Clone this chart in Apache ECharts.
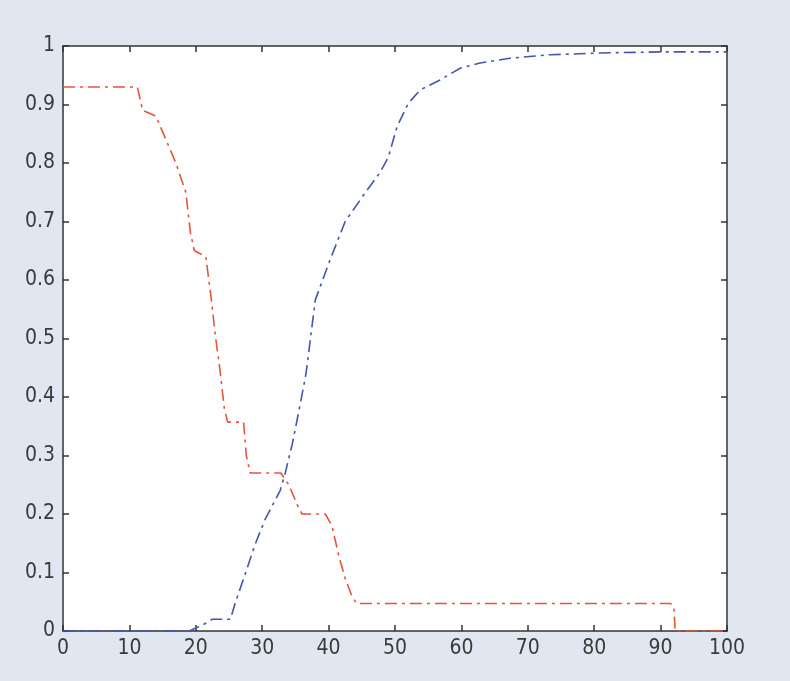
<!DOCTYPE html>
<html>
<head>
<meta charset="utf-8">
<script src="https://cdn.jsdelivr.net/npm/echarts@6/dist/echarts.min.js"></script>
<style>
html,body{margin:0;padding:0;background:#e1e7f0;}
#main{width:790px;height:681px;}
</style>
</head>
<body>
<div id="main"></div>
<script>
// 红线 (x, y) 阶梯下降
var redX=[0,11.2,12,14,15.5,17,18.5,19.2,19.8,21.5,22.2,23,23.6,24.3,24.8,27.2,27.6,28.2,32.8,34,35.5,36,39.5,40.5,41.5,42.5,43.5,44.2,91.5,92,92.2,100];
var redY=[0.93,0.93,0.89,0.88,0.84,0.80,0.75,0.68,0.65,0.64,0.58,0.50,0.45,0.38,0.357,0.357,0.30,0.27,0.27,0.25,0.21,0.20,0.20,0.18,0.13,0.09,0.06,0.047,0.047,0.04,0,0];
// 蓝线 (x, y) 上升
var blueX=[0,19,20,21,22.5,25.2,26,27.4,28.9,30.4,32.7,33.4,34.5,35.7,36.6,38,40.2,42.5,45.5,47.7,49,50.3,52,53.8,56.8,59.8,62.8,67.3,73.3,80.9,90,100];
var blueY=[0,0,0.005,0.01,0.02,0.02,0.05,0.096,0.147,0.19,0.24,0.267,0.318,0.386,0.44,0.566,0.634,0.70,0.749,0.783,0.81,0.862,0.902,0.925,0.942,0.962,0.971,0.979,0.985,0.988,0.99,0.99];
var xTicks=[0,10,20,30,40,50,60,70,80,90,100];
var yTicks=[0,0.1,0.2,0.3,0.4,0.5,0.6,0.7,0.8,0.9,1];

function pairs(xs,ys){
	var out=[];
	for(var i=0;i<xs.length;i++){out.push([xs[i],ys[i]]);}
	return out;
}

var myChart=echarts.init(document.getElementById('main'));
var axisFont={color:'#3a3a3a',fontSize:21,fontFamily:'DejaVu Sans Condensed, sans-serif'};
var lineSty={color:'#333',width:1.5};
var option={
	backgroundColor:'#e1e7f0',
	animation:false,
	grid:{
		show:true,
		left:63,
		right:63,
		top:46,
		bottom:50,
		backgroundColor:'#fdfefd',
		borderWidth:0
	},
	xAxis:[{
		type:'value',min:0,max:100,interval:10,
		axisLine:{show:true,onZero:false,lineStyle:lineSty},
		axisTick:{show:true,inside:true,length:6,lineStyle:lineSty},
		axisLabel:Object.assign({margin:7},axisFont),
		splitLine:{show:false}
	},{
		type:'value',min:0,max:100,interval:10,position:'top',
		axisLine:{show:true,onZero:false,lineStyle:lineSty},
		axisTick:{show:true,inside:true,length:6,lineStyle:lineSty},
		axisLabel:{show:false},
		splitLine:{show:false}
	}],
	yAxis:[{
		type:'value',min:0,max:1,interval:0.1,
		axisLine:{show:true,onZero:false,lineStyle:lineSty},
		axisTick:{show:true,inside:true,length:6,lineStyle:lineSty},
		axisLabel:Object.assign({margin:8,formatter:function(v){return String(Math.round(v*10)/10);}},axisFont),
		splitLine:{show:false}
	},{
		type:'value',min:0,max:1,interval:0.1,position:'right',
		axisLine:{show:true,onZero:false,lineStyle:lineSty},
		axisTick:{show:true,inside:true,length:6,lineStyle:lineSty},
		axisLabel:{show:false},
		splitLine:{show:false}
	}],
	series:[{
		type:'line',
		name:'red',
		data:pairs(redX,redY),
		showSymbol:false,
		lineStyle:{color:'#e5553c',width:1.6,type:[12,5,3,5]}
	},{
		type:'line',
		name:'blue',
		data:pairs(blueX,blueY),
		showSymbol:false,
		lineStyle:{color:'#4555b0',width:1.6,type:[12,5,3,5]}
	}]
};
myChart.setOption(option);
</script>
</body>
</html>
